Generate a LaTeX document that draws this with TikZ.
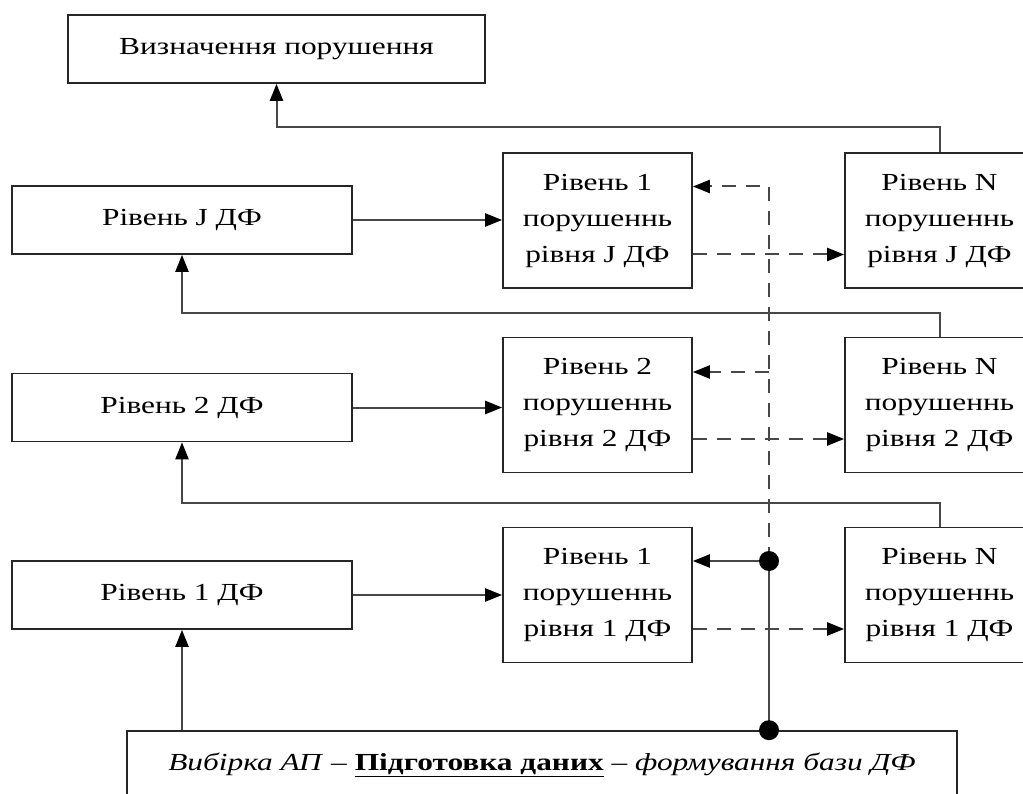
\documentclass[tikz,border=0pt]{standalone}
\usepackage{fontspec}
\setmainfont[FakeStretch=1.28]{Liberation Serif}
\usetikzlibrary{arrows.meta,positioning}

\begin{document}
\begin{tikzpicture}[x=1pt,y=-1pt,
  box/.style={draw=black!85, line width=1.6pt, fill=white, inner sep=0pt,
    align=center, font=\fontsize{24.5}{36}\selectfont},
  wide/.style={box, minimum width=340pt, minimum height=68pt},
  levelbox/.style={box, minimum width=189pt, minimum height=135pt},
  link/.style={draw=black!72, line width=2pt},
  tip/.style={-{Triangle[length=17pt,width=13pt,color=black]}},
  dashline/.style={link, dash pattern=on 14pt off 10pt},
  joint/.style={circle, fill=black, inner sep=0pt, minimum size=20pt}]
\useasboundingbox (0,0) rectangle (1023,794);
\clip (0,0) rectangle (1023,794);
\node[box, minimum width=417pt, minimum height=68pt] (det) at (276.5,49) {Визначення порушення};
\node[wide] (lJ) at (182,220) {Рівень J ДФ};
\node[wide] (l2) at (182,407.5) {Рівень 2 ДФ};
\node[wide] (l1) at (182,595) {Рівень 1 ДФ};
\node[levelbox] (mJ) at (597.5,220.5) {Рівень 1\\порушеннь\\рівня J ДФ};
\node[levelbox] (m2) at (597.5,405) {Рівень 2\\порушеннь\\рівня 2 ДФ};
\node[levelbox] (m1) at (597.5,595) {Рівень 1\\порушеннь\\рівня 1 ДФ};
\node[levelbox] (nJ) at (939.5,220.5) {Рівень N\\порушеннь\\рівня J ДФ};
\node[levelbox] (n2) at (939.5,405) {Рівень N\\порушеннь\\рівня 2 ДФ};
\node[levelbox] (n1) at (939.5,595) {Рівень N\\порушеннь\\рівня 1 ДФ};
\node[box, minimum width=830pt, minimum height=68pt] (base) at (542,765)
  {\textit{Вибірка АП} – \textbf{\underline{Підготовка даних}} – \textit{формування бази ДФ}};
\coordinate (bus) at (769,561);
\draw[link,tip] (lJ.east) -- (lJ.east -| mJ.west);
\draw[link,tip] (l2.east) -- (l2.east -| m2.west);
\draw[link,tip] (l1.east) -- (l1.east -| m1.west);
\draw[link,tip] (nJ.north) -- ++(0,-25) -| (det.south);
\draw[link,tip] (n2.north) -- ++(0,-24) -| (lJ.south);
\draw[link,tip] (n1.north) -- ++(0,-24) -| (l2.south);
\draw[link,tip] (base.north -| l1.south) -- (l1.south);
\draw[dashline,tip] ([yshift=-34pt]mJ.east) -- ([yshift=-34pt]mJ.east -| nJ.west);
\draw[dashline,tip] ([yshift=-34pt]m2.east) -- ([yshift=-34pt]m2.east -| n2.west);
\draw[dashline,tip] ([yshift=-34pt]m1.east) -- ([yshift=-34pt]m1.east -| n1.west);
\draw[dashline,tip] (bus) |- ([yshift=34pt]mJ.east);
\draw[dashline,tip] ([yshift=33pt]m2.east -| bus) -- ([yshift=33pt]m2.east);
\draw[link,tip] (bus) -- (bus -| m1.east);
\draw[link] (bus) -- (bus |- base.north);
\node[joint] (dotA) at (bus) {};
\node[joint] (dotB) at (bus |- base.north) {};
\end{tikzpicture}
\end{document}
